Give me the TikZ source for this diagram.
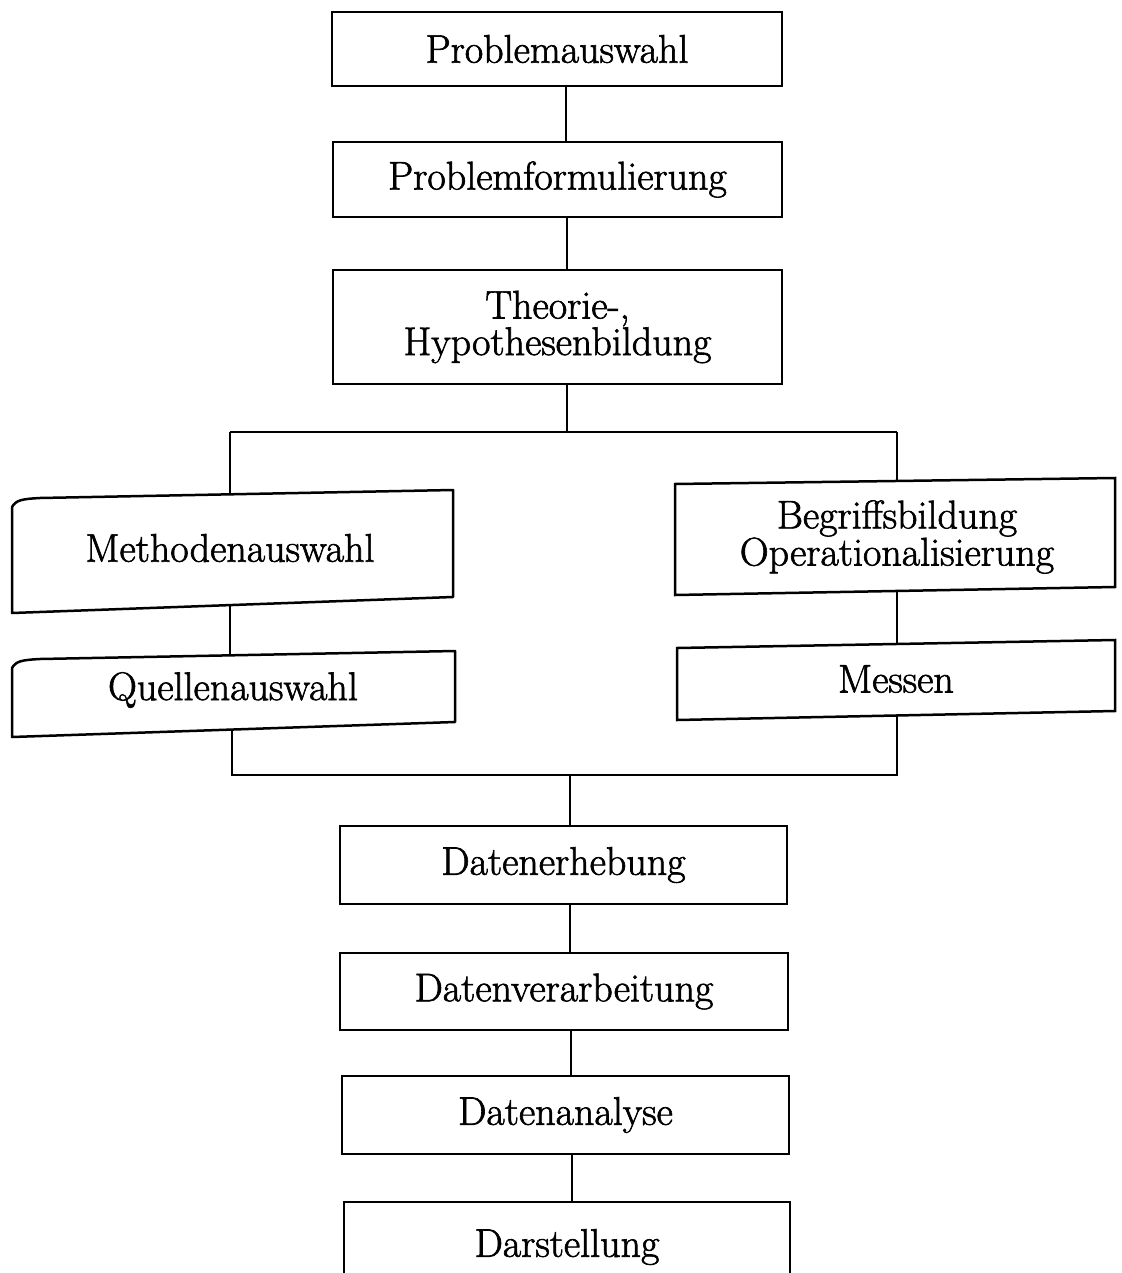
\documentclass[tikz,border=0pt]{standalone}
\usepackage{fontspec}
\newfontfamily\lblfont{Latin Modern Roman}[FakeBold=1.6]
\begin{document}
\begin{tikzpicture}[x=1pt,y=-1pt,
  lbl/.style={font=\lblfont\fontsize{40}{35}\selectfont, align=center, inner sep=0pt},
  box/.style={draw, line width=2.5pt, lbl},
  ln/.style={line width=2.5pt}]
\useasboundingbox (0,0) rectangle (1121,1273);
\clip (0,0) rectangle (1121,1273);
% central boxes
\node[box, minimum width=450, minimum height=74] (a) at (557,49) {Problemauswahl};
\node[box, minimum width=449, minimum height=75] (b) at (557.5,179.5) {Problemformulierung};
\node[box, minimum width=449, minimum height=114] (c) at (557.5,327) {Theorie-,\\Hypothesenbildung};
\node[box, minimum width=447, minimum height=78] (d) at (563.5,865) {Datenerhebung};
\node[box, minimum width=448, minimum height=77] (e) at (564,991.5) {Datenverarbeitung};
\node[box, minimum width=447, minimum height=78] (f) at (565.5,1115) {Datenanalyse};
\node[box, minimum width=446, minimum height=90] (g) at (567,1247) {Darstellung};
% side boxes (slightly skewed outlines)
\node[lbl] (m) at (230,548) {Methodenauswahl};
\node[lbl] (q) at (233,690) {Quellenauswahl};
\node[lbl] (o) at (897,537) {Begriffsbildung\\Operationalisierung};
\node[lbl] (s) at (896,679) {Messen};
\draw[ln, line join=round] (12,613) -- (12,507) .. controls (16,500) and (22,499) .. (40,498) -- (453,490) -- (453,597) -- cycle;
\draw[ln, line join=round] (12,737) -- (12,668) .. controls (16,661) and (22,660) .. (40,659) -- (455,651) -- (455,722) -- cycle;
\draw[ln] (675,484) -- (1115,478) -- (1115,587) -- (675,595) -- cycle;
\draw[ln] (677,648) -- (1115,640) -- (1115,711) -- (677,720) -- cycle;
% connectors
\coordinate (j1) at (567,432);
\coordinate (jl) at (230,432);
\coordinate (jr) at (897,432);
\coordinate (k1) at (570,775);
\coordinate (kl) at (232,775);
\coordinate (kr) at (897,775);
\draw[ln] (a.south -| 566,0) -- (b.north -| 566,0);
\draw[ln] (b.south -| 567,0) -- (c.north -| 567,0);
\draw[ln] (c.south -| j1) -- (j1);
\draw[ln] (jl) -- (jr);
\draw[ln] (jl) -- (230,494);
\draw[ln] (jr) -- (897,481);
\draw[ln] (230,606) -- (230,655);
\draw[ln] (897,591) -- (897,644);
\draw[ln] (232,730) -- (kl) -- (kr) -- (897,716);
\draw[ln] (k1) -- (d.north -| k1);
\draw[ln] (d.south -| 570,0) -- (e.north -| 570,0);
\draw[ln] (e.south -| 571,0) -- (f.north -| 571,0);
\draw[ln] (f.south -| 572,0) -- (g.north -| 572,0);
\end{tikzpicture}
\end{document}
